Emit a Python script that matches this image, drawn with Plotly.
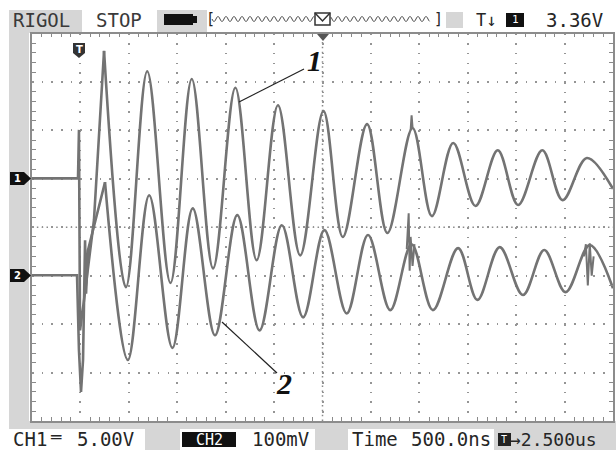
import math
import plotly.graph_objects as go

W, H = 616, 450

# ---- data: time in microseconds (trigger = 0), amplitude in screen divisions ----
ch1_edge_t = [-0.5, -0.025, -0.015, -0.004, 0.037, 0.14, 0.244]
ch1_edge_v = [1.01, 1.01, 2.01, -2.13, -1.51, 0.15, 3.64]
ch1_t = [0.244, 0.47, 0.69, 0.93, 1.15, 1.37, 1.60, 1.82, 2.04, 2.27, 2.51, 2.71,
         2.96, 3.17, 3.43, 3.63, 3.85, 4.08, 4.31, 4.52, 4.77, 4.98, 5.23, 5.50]
ch1_v = [3.64, -1.24, 3.22, -1.15, 3.06, -0.85, 2.88, -0.68, 2.52, -0.58, 2.40, -0.20,
         2.13, -0.12, 2.05, 0.23, 1.74, 0.44, 1.59, 0.46, 1.59, 0.56, 1.43, 0.79]
ch1_spike_t = [3.41, 3.42, 3.43]
ch1_spike_v = [2.0, 2.31, 2.05]

ch2_edge_t = [-0.5, -0.035, -0.015, 0.006, 0.027, 0.048, 0.058, 0.079, 0.254]
ch2_edge_v = [-0.99, -0.99, -2.54, -3.40, -2.74, -0.27, -1.37, -0.47, 0.93]
ch2_t = [0.254, 0.49, 0.71, 0.95, 1.16, 1.39, 1.62, 1.85, 2.08, 2.30, 2.52, 2.75,
         2.97, 3.20, 3.42, 3.64, 3.90, 4.10, 4.33, 4.57, 4.79, 5.01, 5.26, 5.50]
ch2_v = [0.93, -2.74, 0.66, -2.49, 0.39, -2.23, 0.25, -2.13, 0.04, -1.86, -0.06, -1.78,
         -0.16, -1.71, -0.35, -1.71, -0.43, -1.50, -0.41, -1.40, -0.47, -1.34, -0.37, -1.26]
ch2_noise1_t = [3.37, 3.39, 3.40, 3.41, 3.43, 3.45]
ch2_noise1_v = [-0.45, 0.29, -0.9, -0.2, -0.8, -0.35]
ch2_noise2_t = [5.20, 5.22, 5.24, 5.26, 5.28, 5.30]
ch2_noise2_v = [-0.6, -0.35, -1.2, -0.33, -1.0, -0.6]

TRACE = '#737373'
GRAY_BG = '#d6d6d6'
TXT = '#262626'
MONO = 'DejaVu Sans Mono'


def px(x):
    return x / W


def py(y):
    return 1 - y / H


fig = go.Figure()

def add_line(t, v, shape='linear', width=2.6):
    fig.add_trace(go.Scatter(x=t, y=v, mode='lines', hoverinfo='skip',
                             line=dict(color=TRACE, width=width, shape=shape,
                                       smoothing=1.0 if shape == 'spline' else None)))

add_line(ch1_edge_t, ch1_edge_v)
add_line(ch1_t, ch1_v, 'spline')
add_line(ch1_spike_t, ch1_spike_v, width=2)
add_line(ch2_edge_t, ch2_edge_v)
add_line(ch2_t, ch2_v, 'spline')
add_line(ch2_noise1_t, ch2_noise1_v, width=2)
add_line(ch2_noise2_t, ch2_noise2_v, width=2)

shapes = []
ann = []

def rect(x0, y0, x1, y1, fill, layer='below', line=None):
    shapes.append(dict(type='rect', xref='paper', yref='paper',
                       x0=px(x0), x1=px(x1), y0=py(y1), y1=py(y0),
                       fillcolor=fill, line=dict(width=0) if line is None else line,
                       layer=layer))

def path(d_pts, fill, layer='above', close=True, color=None, width=0):
    s = 'M ' + ' L '.join(f'{px(a):.5f},{py(b):.5f}' for a, b in d_pts)
    if close:
        s += ' Z'
    shapes.append(dict(type='path', xref='paper', yref='paper', path=s,
                       fillcolor=fill, line=dict(width=width, color=color or fill),
                       layer=layer))

def text(x, y, s, size=19, color=TXT, family=MONO, anchor='left'):
    ann.append(dict(x=px(x), y=py(y), xref='paper', yref='paper', text=s,
                    showarrow=False, xanchor=anchor, yanchor='middle',
                    font=dict(family=family, size=size, color=color)))

# surrounding grey frame areas
rect(9, 30, 29, 429, GRAY_BG)
rect(9, 10, 82, 33, GRAY_BG)
rect(157, 10, 207, 33, GRAY_BG)
rect(446, 12, 463, 28, GRAY_BG)
rect(9, 421, 616, 429, GRAY_BG)
rect(145, 429, 180, 450, GRAY_BG)
rect(315, 429, 348, 450, GRAY_BG)
rect(494, 429, 616, 450, GRAY_BG)

# top status bar
text(11, 20, 'RIGOL', color='#3a3a3a')
text(94, 20, 'STOP', color='#3a3a3a')
rect(164, 14, 193, 25, '#111111', layer='above')
rect(193, 16, 197, 23, '#111111', layer='above')
text(204, 19, '[', size=15)
text(432, 19, ']', size=15)
# memory-depth wave indicator
xs = [212 + i * 0.5 for i in range(int((430 - 212) / 0.5))]
left = [x for x in xs if x <= 314]
right = [x for x in xs if x >= 331]
for part in (left, right):
    wave = 'M ' + ' L '.join(f'{px(x):.5f},{py(19 + 2.5 * math.sin((x - 212) / 8 * 2 * math.pi)):.5f}'
                             for x in part)
    shapes.append(dict(type='path', xref='paper', yref='paper', path=wave,
                       line=dict(color='#444', width=1), layer='above'))
rect(315, 13, 330, 25, 'white', layer='above', line=dict(color='#333', width=1.5))
path([(315, 13), (322.5, 21), (330, 13)], 'rgba(0,0,0,0)', close=False, color='#333', width=1.5)
text(474, 20, 'T↓', size=17)
rect(506, 13, 524, 27, '#111111', layer='above')
text(515, 20, '1', size=11, color='white', anchor='center')
text(544, 20, '3.36V')

# bottom status bar
text(11, 439, 'CH1')
text(48, 437, '═', size=17)
text(75, 439, '5.00V')
rect(182, 432, 236, 447, '#111111', layer='above')
text(209, 439.5, 'CH2', size=15, color='white', anchor='center')
text(250, 439, '100mV')
text(350, 439, 'Time')
text(409, 439, '500.0ns')
rect(498, 433, 511, 446, '#222222', layer='above')
text(504.5, 439.5, 'T', size=10, color='white', anchor='center')
text(508, 439, '→2.500us', size=18)

# channel markers
path([(10, 172), (24, 172), (31, 178.5), (24, 185), (10, 185)], '#111111')
text(17, 178.5, '<b>1</b>', size=10, color='white', family='DejaVu Sans', anchor='center')
path([(10, 269), (24, 269), (31, 275.5), (24, 282), (10, 282)], '#111111')
text(17, 275.5, '<b>2</b>', size=10, color='white', family='DejaVu Sans', anchor='center')
# trigger markers
path([(73, 43), (85, 43), (85, 53), (79, 58), (73, 53)], '#333333')
text(79, 49, '<b>T</b>', size=10, color='white', family='DejaVu Sans', anchor='center')
path([(317, 34), (329, 34), (323, 41)], '#555555')

# leader lines and labels
shapes.append(dict(type='line', xref='paper', yref='paper', x0=px(239), y0=py(102),
                   x1=px(304), y1=py(69), line=dict(color='#222', width=1.2), layer='above'))
shapes.append(dict(type='line', xref='paper', yref='paper', x0=px(222), y0=py(322),
                   x1=px(277), y1=py(373), line=dict(color='#222', width=1.2), layer='above'))
text(314, 61, '<b><i>1</i></b>', size=30, color='#111', family='Liberation Serif', anchor='center')
text(284, 383, '<b><i>2</i></b>', size=30, color='#111', family='Liberation Serif', anchor='center')

# centre crosshair (denser dots)
shapes.append(dict(type='line', xref='x', yref='y', x0=2.5, x1=2.5, y0=-4, y1=4,
                   line=dict(color='#8a8a8a', width=1.5, dash='1.5px,3.34px'), layer='below'))
shapes.append(dict(type='line', xref='x', yref='y', x0=-0.5, x1=5.5, y0=0, y1=0,
                   line=dict(color='#8a8a8a', width=1.5, dash='1.5px,3.34px'), layer='below'))

GRID = dict(showgrid=True, gridcolor='#959595', gridwidth=1.6, griddash='1.6px,8.08px',
            showline=True, linecolor='#8c8c8c', linewidth=1.5, mirror='allticks',
            ticks='', showticklabels=False, zeroline=False, fixedrange=True)

fig.update_layout(
    width=W, height=H, margin=dict(l=0, r=0, t=0, b=0),
    paper_bgcolor='white', plot_bgcolor='white', showlegend=False,
    shapes=shapes, annotations=ann,
    xaxis=dict(range=[-0.5, 5.5], domain=[px(32), px(613)], dtick=0.5, tick0=-0.5,
               minor=dict(dtick=0.1, tick0=-0.5, ticks='inside', ticklen=4,
                          tickcolor='#8a8a8a', showgrid=False), **GRID),
    yaxis=dict(range=[-4, 4], domain=[py(421), py(33.5)], dtick=1, tick0=0,
               minor=dict(dtick=0.2, tick0=0, ticks='inside', ticklen=4,
                          tickcolor='#8a8a8a', showgrid=False), **GRID),
)

fig.write_html('out.html', config={'displayModeBar': False},
               post_script="document.body.style.margin='0';document.body.style.overflow='hidden';")
